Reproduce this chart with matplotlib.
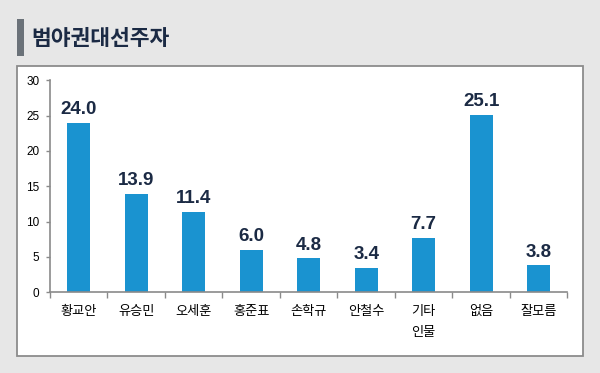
import matplotlib
matplotlib.use("Agg")
import matplotlib.pyplot as plt
from matplotlib.patches import Rectangle

categories = ["황교안", "유승민", "오세훈", "홍준표", "손학규", "안철수", "기타\n인물", "없음", "잘모름"]
values = [24.0, 13.9, 11.4, 6.0, 4.8, 3.4, 7.7, 25.1, 3.8]
yticks = [0, 5, 10, 15, 20, 25, 30]
title = "범야권대선주자"

W, H = 600, 373
fig = plt.figure(figsize=(W / 100, H / 100), dpi=100)
fig.patch.set_facecolor("#e7e7e7")

def fx(px):
    return px / W

def fy(py):
    return 1 - py / H

# white panel
fig.patches.append(Rectangle((fx(16.7), fy(356)), fx(583.3) - fx(16.7), fy(66) - fy(356),
                             transform=fig.transFigure, facecolor="white",
                             edgecolor="#8c8c8c", linewidth=1.3, zorder=0))
# title marker
fig.patches.append(Rectangle((fx(17), fy(55.7)), fx(23.7) - fx(17), fy(19) - fy(55.7),
                             transform=fig.transFigure, facecolor="#6b7279",
                             edgecolor="none", zorder=1))
fig.text(fx(31), fy(38.5), title, fontsize=15.5, fontweight="heavy", color="#1b2a44",
         family=["Noto Sans CJK KR", "DejaVu Sans"], va="center", ha="left")

ax = fig.add_axes([fx(50), fy(292.3), fx(567.3) - fx(50), fy(80.3) - fy(292.3)])
ax.set_zorder(5)
ax.set_facecolor("none")
x = list(range(len(categories)))
ax.bar(x, values, width=0.4, color="#1a93d0", zorder=2)
ax.set_xlim(-0.5, len(categories) - 0.5)
ax.set_ylim(0, 30)

for s in ["top", "right"]:
    ax.spines[s].set_visible(False)
for s in ["left", "bottom"]:
    ax.spines[s].set_color("#8a8a8a")
    ax.spines[s].set_linewidth(1.2)

ax.set_yticks(yticks)
ax.set_yticklabels([str(t) for t in yticks], family=["Liberation Sans"], fontsize=8.5, color="black")
ax.tick_params(axis="y", length=3, width=1, color="#8a8a8a", pad=4.5)

ax.set_xticks(x)
ax.set_xticklabels(categories, family=["Noto Sans CJK KR", "DejaVu Sans"], fontsize=9.5,
                   color="black", linespacing=1.8, va="top")
ax.tick_params(axis="x", which="major", length=0, pad=9)
ax.set_xticks([i - 0.5 for i in range(len(categories) + 1)], minor=True)
ax.tick_params(axis="x", which="minor", length=4, width=1, color="#8a8a8a")

for xi, v in zip(x, values):
    ax.annotate(f"{v:.1f}", (xi, v), xytext=(0, 3.5), textcoords="offset points",
                ha="center", va="bottom", fontsize=13.5, fontweight="bold", color="#1b2a44",
                family=["Liberation Sans"])

fig.savefig("out.png", dpi=100, facecolor=fig.get_facecolor())
